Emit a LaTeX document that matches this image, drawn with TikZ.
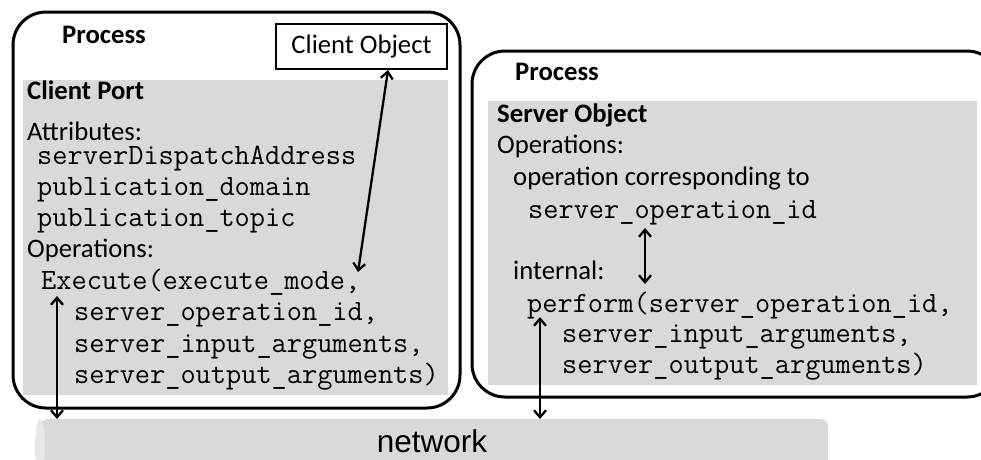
\documentclass[tikz,border=0pt]{standalone}
\usepackage{fontspec}
\setmainfont{Carlito}
\newfontfamily\netfont{Liberation Sans}
\usetikzlibrary{arrows.meta}
\definecolor{panelgray}{HTML}{D9D9D9}
\definecolor{capgray}{HTML}{E8E8E8}
\begin{document}
\begin{tikzpicture}[x=1pt,y=-1pt,
  lbl/.style={anchor=base west, inner sep=0pt, font=\fontsize{26.7}{30}\selectfont},
  boldlbl/.style={anchor=base west, inner sep=0pt, font=\fontsize{26.7}{30}\selectfont\bfseries},
  code/.style={anchor=base west, inner sep=0pt, font=\fontsize{29.5}{32}\selectfont\ttfamily},
  proc/.style={draw=black, line width=3pt, rounded corners=33pt},
  panel/.style={fill=panelgray, draw=none},
  arr/.style={line width=2.3pt, {Straight Barb[length=7pt,width=12pt]}-{Straight Barb[length=7pt,width=12pt]}}
]
\useasboundingbox (0,0) rectangle (981,459);

% network cylinder
\fill[panelgray, rounded corners=8pt] (40,419) rectangle (828,475);
\fill[capgray] (40,447) ellipse [x radius=5, y radius=28];
\node[anchor=base, inner sep=0pt, font=\fontsize{31.5}{34}\selectfont\netfont] (net) at (432,452) {network};

% left process
\draw[proc] (13,12) rectangle (460,408);
\fill[panel] (23,80) rectangle (448,395);
\node[boldlbl] (p1) at (62,43) {Process};
\node[draw=black, line width=1.3pt, fill=white, minimum width=171pt, minimum height=45pt, inner sep=0pt,
      font=\fontsize{26.7}{30}\selectfont] (cobj) at (361.5,46.5) {Client Object};
\node[boldlbl] (cp) at (27,99) {Client Port};
\node[lbl] (attr) at (27,140) {Attributes:};
\node[code] (sda) at (37,164) {serverDispatchAddress};
\node[code] (pd) at (37,195) {publication\_domain};
\node[code] (pt) at (37,226) {publication\_topic};
\node[lbl] (ops1) at (27,257) {Operations:};
\node[code] (exe) at (41,289) {Execute(execute\_mode,};
\node[code] (e2) at (74,320) {server\_operation\_id,};
\node[code] (e3) at (74,352) {server\_input\_arguments,};
\node[code] (e4) at (74,383) {server\_output\_arguments)};

% right process
\draw[proc] (472,51) rectangle (1000,397);
\fill[panel] (488,101) rectangle (977,385);
\node[boldlbl] (p2) at (515,80) {Process};
\node[boldlbl] (so) at (497,122) {Server Object};
\node[lbl] (ops2) at (497,153) {Operations:};
\node[lbl] (oc) at (513,185) {operation corresponding to};
\node[code] (soid) at (528,218) {server\_operation\_id};
\node[lbl] (int) at (513,279) {internal:};
\node[code] (perf) at (527,312) {perform(server\_operation\_id,};
\node[code] (p3) at (562,342) {server\_input\_arguments,};
\node[code] (p4) at (562,373) {server\_output\_arguments)};

% connectors
\coordinate (coA) at (388,70);
\coordinate (coB) at (358,272);
\draw[arr] (coA) -- (coB);
\coordinate (exA) at (57,296);
\coordinate (exB) at (57,419);
\draw[arr] (exA) -- (exB);
\coordinate (soA) at (645,228);
\coordinate (soB) at (645,284);
\draw[arr] (soA) -- (soB);
\coordinate (pfA) at (540,317);
\coordinate (pfB) at (540,419);
\draw[arr] (pfA) -- (pfB);
\end{tikzpicture}
\end{document}
